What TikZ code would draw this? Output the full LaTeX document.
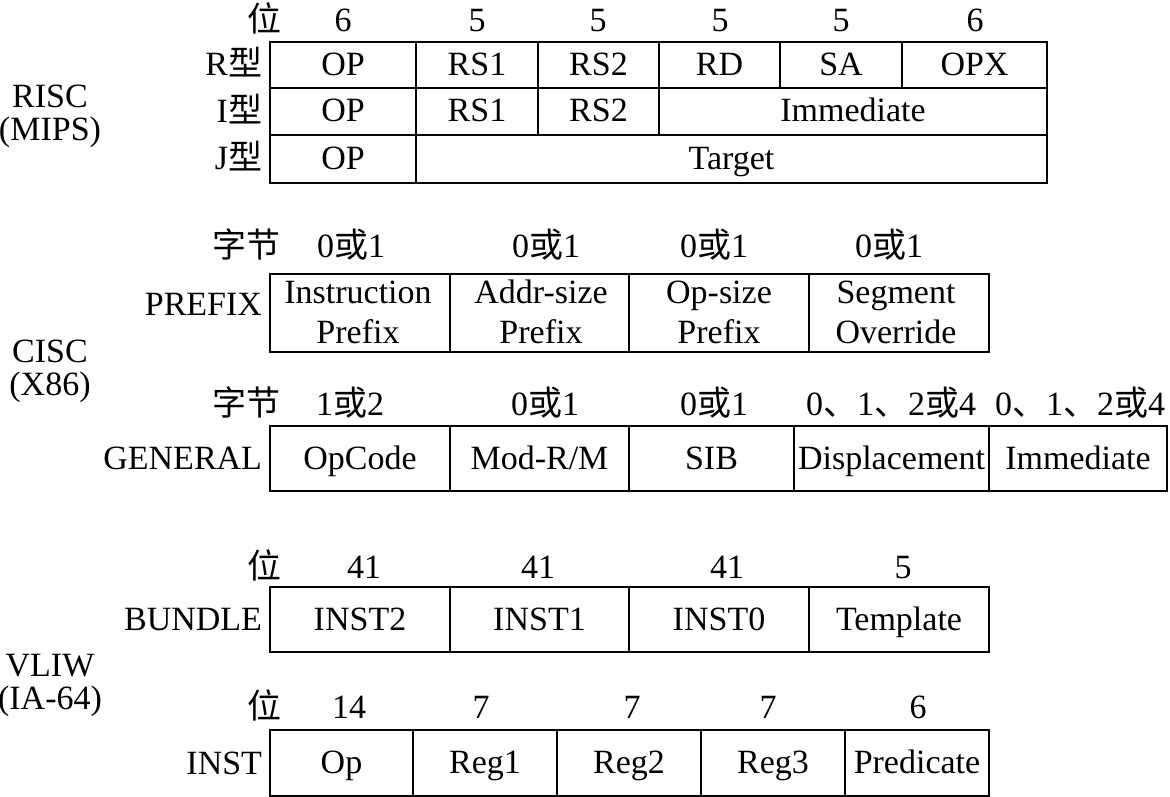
\documentclass[tikz,border=0pt]{standalone}
\usepackage{fontspec}
\setmainfont{Liberation Serif}
\newfontfamily\cjk{Noto Sans CJK SC}
\newcommand\zh[1]{{\cjk #1}}
\tikzset{
  cell/.style={draw, line width=1.4pt, rectangle, inner sep=0pt, outer sep=0pt, text height=22pt, text depth=1pt},
  txt/.style={inner sep=0pt, outer sep=0pt, text height=22pt, text depth=4pt},
  rlab/.style={txt, anchor=east},
}
% \fcell{name}{x1}{y1}{x2}{y2}{text}
\newcommand\fcell[6]{\node[cell, minimum width=#4pt-#2pt, minimum height=#5pt-#3pt] (#1) at ({(#2+#4)/2},{(#3+#5)/2}) {#6};}
\begin{document}
\begin{tikzpicture}[x=1pt, y=-1pt, font=\fontsize{34}{40}\selectfont]
\useasboundingbox (0,0) rectangle (1170,797);

% ---------------- RISC ----------------
\node[txt] (rg1) at (50,99) {RISC};
\node[txt] (rg2) at (50,132) {(MIPS)};

\node[txt] (rhw) at (264,23) {\zh{位}};
\node[txt] (rh1) at (343,23) {6};
\node[txt] (rh2) at (477,23) {5};
\node[txt] (rh3) at (598,23) {5};
\node[txt] (rh4) at (720,23) {5};
\node[txt] (rh5) at (841,23) {5};
\node[txt] (rh6) at (975,23) {6};

\node[rlab] (rl1) at (262,67) {R\zh{型}};
\node[rlab] (rl2) at (262,113.5) {I\zh{型}};
\node[rlab] (rl3) at (262,161) {J\zh{型}};

\fcell{r1}{270}{42}{416}{88}{OP}
\fcell{r2}{416}{42}{538}{88}{RS1}
\fcell{r3}{538}{42}{659}{88}{RS2}
\fcell{r4}{659}{42}{780}{88}{RD}
\fcell{r5}{780}{42}{902}{88}{SA}
\fcell{r6}{902}{42}{1047}{88}{OPX}

\fcell{i1}{270}{88}{416}{135}{OP}
\fcell{i2}{416}{88}{538}{135}{RS1}
\fcell{i3}{538}{88}{659}{135}{RS2}
\fcell{i4}{659}{88}{1047}{135}{Immediate}

\fcell{j1}{270}{135}{416}{183}{OP}
\fcell{j2}{416}{135}{1047}{183}{Target}

% ---------------- CISC ----------------
\node[txt] (cg1) at (50,353) {CISC};
\node[txt] (cg2) at (50,386) {(X86)};

\node[txt] (ph0) at (246,248.5) {\zh{字节}};
\node[txt] (ph1) at (351,248.5) {0\zh{或}1};
\node[txt] (ph2) at (546,248.5) {0\zh{或}1};
\node[txt] (ph3) at (714,248.5) {0\zh{或}1};
\node[txt] (ph4) at (889,248.5) {0\zh{或}1};

\node[rlab] (pl) at (262,306) {PREFIX};

\fcell{p1}{270}{274}{450}{352}{}
\fcell{p2}{450}{274}{629}{352}{}
\fcell{p3}{629}{274}{809}{352}{}
\fcell{p4}{809}{274}{989}{352}{}
\node[txt] (p1a) at (358,294) {Instruction};
\node[txt] (p1b) at (358,334) {Prefix};
\node[txt] (p2a) at (541,294) {Addr-size};
\node[txt] (p2b) at (541,334) {Prefix};
\node[txt] (p3a) at (719,294) {Op-size};
\node[txt] (p3b) at (719,334) {Prefix};
\node[txt] (p4a) at (896,294) {Segment};
\node[txt] (p4b) at (896,334) {Override};

\node[txt] (gh0) at (246,406.5) {\zh{字节}};
\node[txt] (gh1) at (350,406.5) {1\zh{或}2};
\node[txt] (gh2) at (545,406.5) {0\zh{或}1};
\node[txt] (gh3) at (714,406.5) {0\zh{或}1};
\node[txt] (gh4) at (891,406.5) {0\zh{、}1\zh{、}2\zh{或}4};
\node[txt] (gh5) at (1080,406.5) {0\zh{、}1\zh{、}2\zh{或}4};

\node[rlab] (gl) at (262,460) {GENERAL};

\fcell{g1}{270}{426}{450}{491}{OpCode}
\fcell{g2}{450}{426}{629}{491}{Mod-R/M}
\fcell{g3}{629}{426}{794}{491}{SIB}
\fcell{g4}{794}{426}{989}{491}{Displacement}
\fcell{g5}{989}{426}{1167}{491}{Immediate}

% ---------------- VLIW ----------------
\node[txt] (vg1) at (50,667) {VLIW};
\node[txt] (vg2) at (50,700) {(IA-64)};

\node[txt] (bhw) at (264,569.5) {\zh{位}};
\node[txt] (bh1) at (364,569.5) {41};
\node[txt] (bh2) at (538,569.5) {41};
\node[txt] (bh3) at (727,569.5) {41};
\node[txt] (bh4) at (903,569.5) {5};

\node[rlab] (bl) at (262,621) {BUNDLE};

\fcell{b1}{270}{587}{450}{652}{INST2}
\fcell{b2}{450}{587}{629}{652}{INST1}
\fcell{b3}{629}{587}{809}{652}{INST0}
\fcell{b4}{809}{587}{989}{652}{Template}

\node[txt] (nhw) at (264,709.5) {\zh{位}};
\node[txt] (nh1) at (349,709.5) {14};
\node[txt] (nh2) at (481,709.5) {7};
\node[txt] (nh3) at (632,709.5) {7};
\node[txt] (nh4) at (768,709.5) {7};
\node[txt] (nh5) at (918,709.5) {6};

\node[rlab] (nl) at (262,765) {INST};

\fcell{n1}{270}{730}{413}{796}{Op}
\fcell{n2}{413}{730}{557}{796}{Reg1}
\fcell{n3}{557}{730}{701}{796}{Reg2}
\fcell{n4}{701}{730}{845}{796}{Reg3}
\fcell{n5}{845}{730}{989}{796}{Predicate}
\end{tikzpicture}
\end{document}
